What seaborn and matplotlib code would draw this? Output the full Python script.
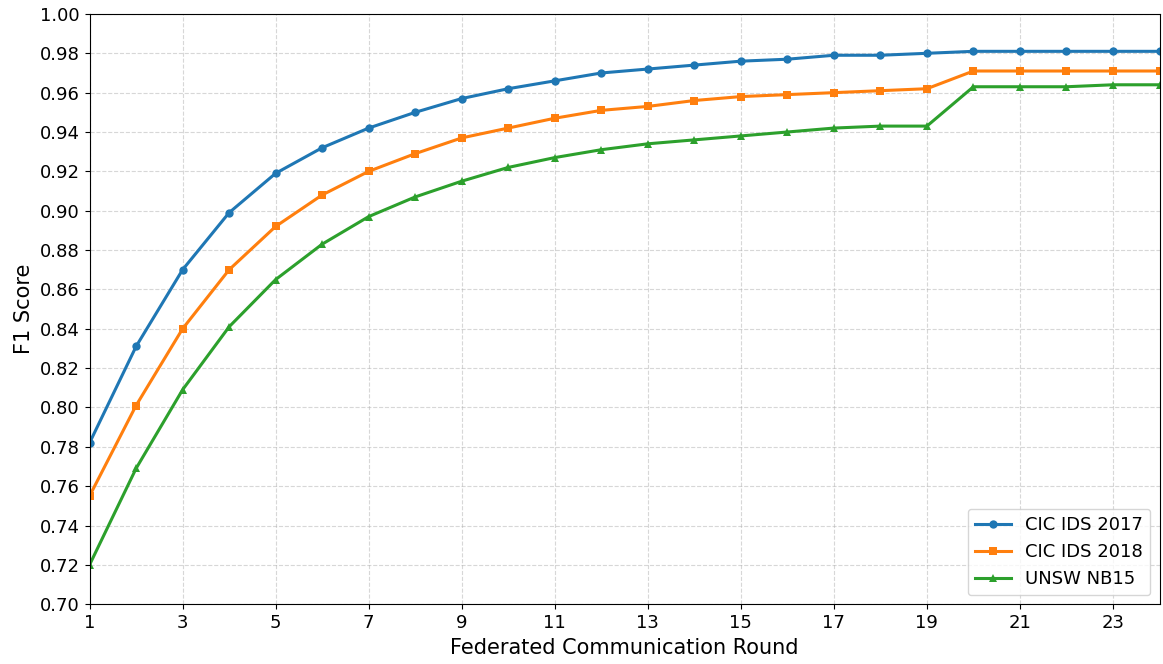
import numpy as np
import pandas as pd
import seaborn as sns
import matplotlib.pyplot as plt

rounds = list(range(1, 25))
cic2017 = [0.782, 0.831, 0.870, 0.899, 0.919, 0.932, 0.942, 0.950, 0.957, 0.962, 0.966, 0.970,
           0.972, 0.974, 0.976, 0.977, 0.979, 0.979, 0.980, 0.981, 0.981, 0.981, 0.981, 0.981]
cic2018 = [0.755, 0.801, 0.840, 0.870, 0.892, 0.908, 0.920, 0.929, 0.937, 0.942, 0.947, 0.951,
           0.953, 0.956, 0.958, 0.959, 0.960, 0.961, 0.962, 0.971, 0.971, 0.971, 0.971, 0.971]
unsw = [0.720, 0.769, 0.809, 0.841, 0.865, 0.883, 0.897, 0.907, 0.915, 0.922, 0.927, 0.931,
        0.934, 0.936, 0.938, 0.940, 0.942, 0.943, 0.943, 0.963, 0.963, 0.963, 0.964, 0.964]
names = ['CIC IDS 2017', 'CIC IDS 2018', 'UNSW NB15']

df = pd.DataFrame({
    'Round': rounds * 3,
    'F1': cic2017 + cic2018 + unsw,
    'Dataset': [n for n in names for _ in rounds],
})

fig, ax = plt.subplots(figsize=(11.63, 6.64), dpi=100)
sns.lineplot(data=df, x='Round', y='F1', hue='Dataset', style='Dataset',
             palette=['#1f77b4', '#ff7f0e', '#2ca02c'],
             markers={'CIC IDS 2017': 'o', 'CIC IDS 2018': 's', 'UNSW NB15': '^'},
             dashes=False, linewidth=2.2, markersize=6, markeredgewidth=0, ax=ax)

ax.set_xlim(1, 24)
ax.set_ylim(0.70, 1.00)
ax.set_xticks(range(1, 25, 2))
ax.set_yticks(np.arange(0.70, 1.001, 0.02))
ax.set_yticklabels([f'{v:.2f}' for v in np.arange(0.70, 1.001, 0.02)])
ax.tick_params(labelsize=13)
ax.set_xlabel('Federated Communication Round', fontsize=15)
ax.set_ylabel('F1 Score', fontsize=15)
ax.grid(True, linestyle='--', alpha=0.5)
ax.legend(title=None, loc='lower right', fontsize=13)

plt.subplots_adjust(left=0.077, right=0.997, top=0.979, bottom=0.09)
plt.savefig('out.png', dpi=100)
